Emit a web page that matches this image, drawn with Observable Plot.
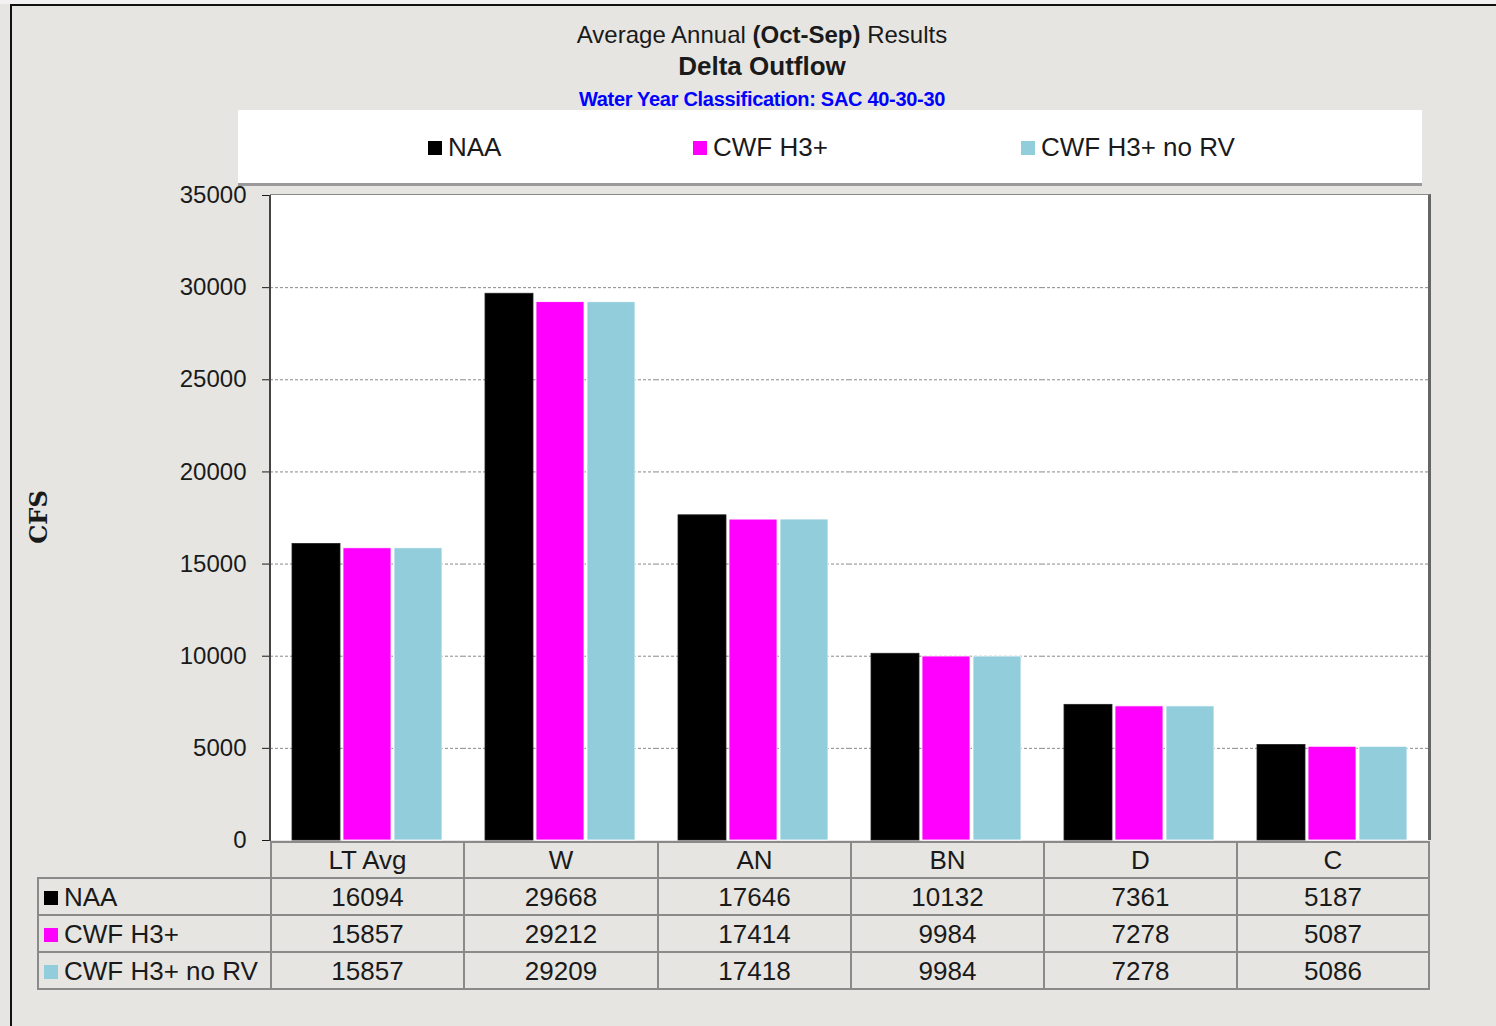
<!DOCTYPE html>
<html><head><meta charset="utf-8">
<script src="https://cdn.jsdelivr.net/npm/d3@7"></script>
<script src="https://cdn.jsdelivr.net/npm/@observablehq/plot@0.6"></script>
<style>
body{margin:0;background:#e6e5e1;font-family:"Liberation Sans",Arial,sans-serif;color:#1a1a1a;}
#page{position:relative;width:1496px;height:1026px;overflow:hidden;background:#e6e5e1;}
.abs{position:absolute;}
#topline{left:10px;top:4px;width:1486px;height:2px;background:#111;}
#leftline{left:10px;top:4px;width:2px;height:1022px;background:#111;}
#above{left:0;top:0;width:1496px;height:4px;background:#f2f2f2;}
.title{left:0;width:1524px;text-align:center;white-space:nowrap;}
#t1{top:20px;font-size:24px;line-height:30px;}
#t2{top:50px;font-size:26px;line-height:32px;font-weight:bold;}
#t3{top:87px;font-size:20px;line-height:24px;font-weight:bold;color:#0000ff;letter-spacing:-0.3px;}
#legend{left:238px;top:110px;width:1184px;height:73px;background:#fff;border-bottom:3px solid #9a9a9a;}
.litem{position:absolute;top:21px;font-size:26px;line-height:32px;white-space:nowrap;}
.lsw{display:inline-block;width:14px;height:14px;margin-right:6px;vertical-align:1px;}
#plotbg{left:270px;top:195px;width:1158px;height:645px;background:#fff;border-top:1px solid #8a8a8a;border-right:3px solid #666;box-sizing:content-box;margin-top:-1px;}
#yline{left:269px;top:195px;width:2px;height:646px;background:#444;}
#cfs{left:38px;top:517px;transform:translate(-50%,-50%) rotate(-90deg);font-family:"DejaVu Serif",serif;font-weight:bold;font-size:24px;white-space:nowrap;}
#chart{left:0;top:0;}
table.dt{position:absolute;left:37px;top:841px;border-collapse:collapse;table-layout:fixed;font-size:26px;}
table.dt td{border:2px solid #8a8a8a;text-align:center;padding:0;white-space:nowrap;color:#1a1a1a;line-height:30px;}
table.dt td.name{text-align:left;padding-left:5px;}
table.dt td.blank{border:none;}
.tsw{display:inline-block;width:14px;height:14px;margin-right:6px;vertical-align:1px;}
</style></head><body><div id="page"></div>
<script>
const categories = ["LT Avg", "W", "AN", "BN", "D", "C"];
const seriesNames = ["NAA", "CWF H3+", "CWF H3+ no RV"];
const seriesColors = ["#000000", "#ff00ff", "#92cddc"];
const naa = [16094, 29668, 17646, 10132, 7361, 5187];
const cwfH3 = [15857, 29212, 17414, 9984, 7278, 5087];
const cwfH3NoRV = [15857, 29209, 17418, 9984, 7278, 5086];
const yTicks = [0, 5000, 10000, 15000, 20000, 25000, 30000, 35000];
const titleLine1 = ["Average Annual ", "(Oct-Sep)", " Results"];
const titleLine2 = "Delta Outflow";
const titleLine3 = "Water Year Classification: SAC 40-30-30";
const yLabel = "CFS";

const seriesValues = [naa, cwfH3, cwfH3NoRV];
const data = [];
categories.forEach((c, i) => seriesNames.forEach((s, j) => data.push({category: c, series: s, value: seriesValues[j][i]})));

const page = document.getElementById("page");
function el(tag, cls, id, html) {
  const e = document.createElement(tag);
  if (cls) e.className = cls;
  if (id) e.id = id;
  if (html != null) e.innerHTML = html;
  page.appendChild(e);
  return e;
}
el("div", "abs", "above");
el("div", "abs", "topline");
el("div", "abs", "leftline");
el("div", "abs title", "t1", `${titleLine1[0]}<b>${titleLine1[1]}</b>${titleLine1[2]}`);
el("div", "abs title", "t2", titleLine2);
el("div", "abs title", "t3", titleLine3);
const legend = el("div", "abs", "legend");
const legendX = [190, 455, 783];
seriesNames.forEach((s, j) => {
  const it = document.createElement("div");
  it.className = "litem";
  it.style.left = legendX[j] + "px";
  it.innerHTML = `<span class="lsw" style="background:${seriesColors[j]}"></span>${s}`;
  legend.appendChild(it);
});
el("div", "abs", "plotbg");
el("div", "abs", "cfs", yLabel);

const chart = Plot.plot({
  width: 1496,
  height: 1026,
  marginLeft: 270,
  marginRight: 68,
  marginTop: 195,
  marginBottom: 186,
  style: {background: "transparent", fontFamily: "'Liberation Sans', Arial, sans-serif", fontSize: "24px", color: "#1a1a1a", overflow: "visible"},
  fx: {domain: categories, padding: 0, axis: null},
  x: {domain: seriesNames, paddingInner: 0.06, paddingOuter: 0.42, axis: null},
  y: {domain: [0, 35000], ticks: yTicks, tickSize: 8, tickPadding: 16, label: null, tickFormat: d => String(d)},
  color: {domain: seriesNames, range: seriesColors},
  marks: [
    Plot.ruleY(yTicks.filter(t => t > 0 && t < 35000), {stroke: "#8a8a8a", strokeDasharray: "3,2", strokeWidth: 1}),
    Plot.barY(data, {fx: "category", x: "series", y: "value", fill: "series", stroke: d => d.series === "NAA" ? "#222" : "#fff", strokeWidth: 0.8})
  ]
});
chart.classList.add("abs");
chart.id = "chart";
page.appendChild(chart);
el("div", "abs", "yline");

// data table
const table = document.createElement("table");
table.className = "dt";
const colW = [233, 193, 194, 193, 193, 193, 192];
const cg = document.createElement("colgroup");
colW.forEach(w => { const c = document.createElement("col"); c.style.width = w + "px"; cg.appendChild(c); });
table.appendChild(cg);
const hr = document.createElement("tr");
hr.style.height = "36px";
hr.innerHTML = `<td class="blank"></td>` + categories.map(c => `<td>${c}</td>`).join("");
table.appendChild(hr);
seriesNames.forEach((s, j) => {
  const tr = document.createElement("tr");
  tr.style.height = "37px";
  tr.innerHTML = `<td class="name"><span class="tsw" style="background:${seriesColors[j]}"></span>${s}</td>` +
    seriesValues[j].map(v => `<td>${v}</td>`).join("");
  table.appendChild(tr);
});
page.appendChild(table);
</script>
</body></html>
